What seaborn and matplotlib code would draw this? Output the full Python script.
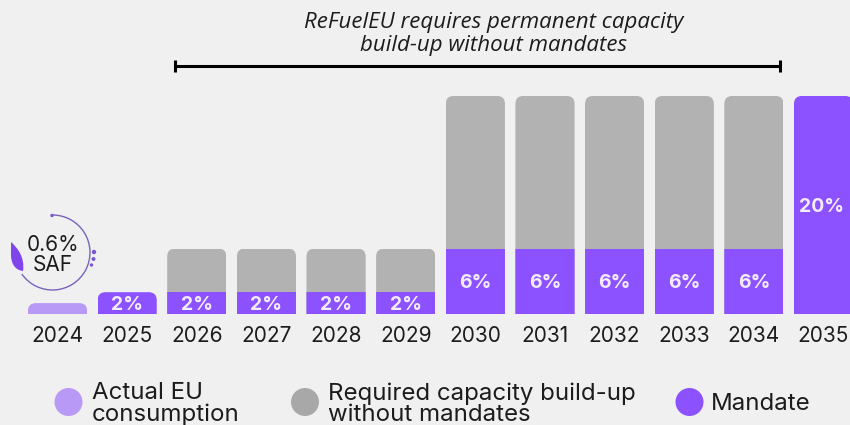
import numpy as np
import pandas as pd
import seaborn as sns
import matplotlib
matplotlib.use('Agg')
import matplotlib.pyplot as plt
from matplotlib.patches import Arc, Circle, FancyBboxPatch, PathPatch
from matplotlib.path import Path
from matplotlib.transforms import IdentityTransform

years = ['2024', '2025', '2026', '2027', '2028', '2029', '2030', '2031', '2032', '2033', '2034', '2035']
actual = [1, 0, 0, 0, 0, 0, 0, 0, 0, 0, 0, 0]
required_top = [0, 0, 6, 6, 6, 6, 20, 20, 20, 20, 20, 0]
mandate = [0, 2, 2, 2, 2, 2, 6, 6, 6, 6, 6, 20]
mandate_labels = ['', '2%', '2%', '2%', '2%', '2%', '6%', '6%', '6%', '6%', '6%', '20%']

BG = '#f0f0f0'
GREY = '#b3b2b2'
PURPLE = '#8c52ff'
LIGHT = '#b899f5'
DARK = '#1c1c1c'

sns.set_theme(style='white')
plt.rcParams['font.family'] = ['Inter', 'DejaVu Sans']

df = pd.DataFrame({'year': years, 'actual': actual, 'required': required_top, 'mandate': mandate})

fig = plt.figure(figsize=(8.5, 4.25), dpi=100, facecolor=BG)
ax = fig.add_axes([0, 111 / 425, 1, 314 / 425], facecolor=BG)

# grey goes first, mandate is drawn over it
for col, c in [('required', GREY), ('actual', LIGHT), ('mandate', PURPLE)]:
    sns.barplot(data=df, x='year', y=col, color=c, saturation=1, width=0.85,
                edgecolor='none', linewidth=0, ax=ax)

ax.set_xlim(-0.826, 11.38)
ax.set_ylim(0, 28.8)
ax.set_xlabel('')
ax.set_ylabel('')
ax.set_yticks([])
ax.tick_params(axis='x', length=0, pad=9, labelsize=15, labelcolor=DARK)
sns.despine(ax=ax, left=True, bottom=True)

bar_texts = ax.bar_label(ax.containers[2], labels=mandate_labels, label_type='center',
                         color='#f3ecff', fontsize=14, fontweight='bold')
for t in bar_texts:
    t.set_va('center_baseline')

# round the top of each stack, radius is in pixels
for i in range(len(years)):
    stack = [cont[i] for cont in ax.containers]
    boxes = [b.get_window_extent() for b in stack]
    x0 = boxes[0].x0
    y0 = boxes[0].y0
    h = max(b.height for b in boxes)
    clip = FancyBboxPatch((x0, y0 - 20), boxes[0].width, h + 20,
                          boxstyle='round,pad=0,rounding_size=8',
                          transform=IdentityTransform())
    for b in stack:
        b.set_clip_path(clip)

# overlay in reference pixels for the callout, bracket and legend
over = fig.add_axes([0, 0, 1, 1])
over.set_xlim(0, 850)
over.set_ylim(425, 0)
over.axis('off')

over.text(494, 34, 'ReFuelEU requires permanent capacity\nbuild-up without mandates',
          ha='center', va='center', fontsize=16, style='italic', color=DARK, linespacing=1.1,
          family=['Open Sans', 'DejaVu Sans'])
over.plot([175, 780], [66, 66], color='black', lw=2.2, solid_capstyle='butt')
over.plot([175, 780], [66, 66], ls='none', marker='|', ms=9, mew=2.2, color='black')

# 0.6% SAF callout
over.add_patch(Arc((52.5, 252.5), 75, 75, theta1=-90, theta2=145, color='#7a62bd', lw=1))
over.scatter([52, 94, 93.5, 91.5], [215.5, 252, 259, 265], s=[6, 10, 8, 6], color='#7a55d0', lw=0)
leaf = Path([(11, 242), (18, 248), (25, 258), (23, 271), (14, 270), (11, 262), (11, 255), (11, 242)],
            [Path.MOVETO, Path.CURVE4, Path.CURVE4, Path.CURVE4,
             Path.CURVE4, Path.CURVE4, Path.CURVE4, Path.CLOSEPOLY])
over.add_patch(PathPatch(leaf, fc='#7f45ec', lw=0))
over.text(53, 245, '0.6%', ha='center', va='center', fontsize=15, color=DARK)
over.text(53, 265, 'SAF', ha='center', va='center', fontsize=15, color=DARK)

# legend
legend_items = [(68.5, LIGHT, 'Actual EU\nconsumption', 92),
                (305, '#a8a8a8', 'Required capacity build-up\nwithout mandates', 328),
                (689.5, PURPLE, 'Mandate', 711)]
for cx, c, label, tx in legend_items:
    over.add_patch(Circle((cx, 402), 14, fc=c, lw=0))
    over.text(tx, 404, label, ha='left', va='center', fontsize=17.3, color=DARK, linespacing=0.93)

fig.savefig('out.png', dpi=100, facecolor=BG)
